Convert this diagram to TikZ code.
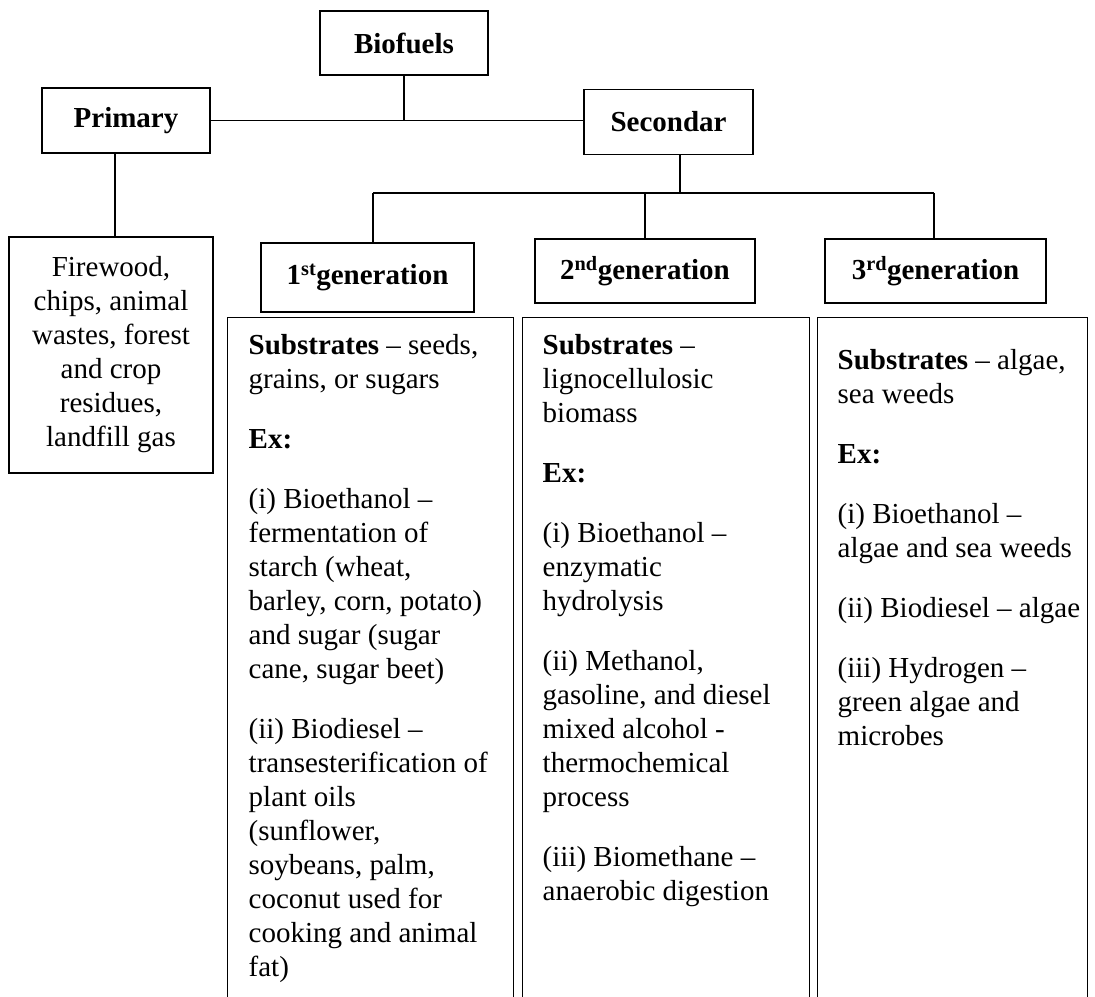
\documentclass[tikz,border=0pt]{standalone}
\usepackage{fontspec}
\setmainfont{Liberation Serif}
\usetikzlibrary{positioning}

\begin{document}
\begin{tikzpicture}[x=1pt, y=-1pt, line width=1.4pt,
  font=\fontsize{29}{34}\selectfont,
  hb/.style={draw, inner sep=0pt, font=\fontsize{29}{34}\selectfont\bfseries},
  col/.style={draw, anchor=north west, inner sep=0pt, minimum height=720pt},
  txt/.style={inner sep=0pt, align=left}]
  \useasboundingbox (0,0) rectangle (1095,996);
  \node[hb, minimum width=168pt, minimum height=64pt] (bio)  at (404,43)    {Biofuels};
  \node[hb, minimum width=168pt, minimum height=65pt] (prim) at (126,120.5) {Primary};
  \node[hb, minimum width=169pt, minimum height=65pt] (sec)  at (668.5,122) {Secondar};
  \node[draw, inner sep=0pt, align=center, minimum width=204pt, minimum height=236pt] (fire) at (111,355)
    {Firewood,\\chips, animal\\wastes, forest\\and crop\\residues,\\landfill gas};
  \node[hb, minimum width=213pt, minimum height=69pt] (gen1) at (367.5,277.5) {1\textsuperscript{st}generation};
  \node[hb, minimum width=220pt, minimum height=64pt] (gen2) at (645,271)     {2\textsuperscript{nd}generation};
  \node[hb, minimum width=221pt, minimum height=64pt] (gen3) at (935.5,271)   {3\textsuperscript{rd}generation};
  \node[col, minimum width=286pt] (col1) at (227,317) {};
  \node[col, minimum width=287pt] (col2) at (522,317) {};
  \node[col, minimum width=270pt] (col3) at (817,317) {};
  \node[txt, below right=15pt and 21pt of col1.north west] (txt1)
    {\rule{0pt}{22pt}\textbf{Substrates} -- seeds,\\grains, or sugars\\[26pt]
     \textbf{Ex:}\\[26pt]
     (i) Bioethanol --\\fermentation of\\starch (wheat,\\barley, corn, potato)\\and sugar (sugar\\cane, sugar beet)\\[26pt]
     (ii) Biodiesel --\\transesterification of\\plant oils\\(sunflower,\\soybeans, palm,\\coconut used for\\cooking and animal\\fat)};
  \node[txt, below right=15pt and 20pt of col2.north west] (txt2)
    {\rule{0pt}{22pt}\textbf{Substrates} --\\lignocellulosic\\biomass\\[26pt]
     \textbf{Ex:}\\[26pt]
     (i) Bioethanol --\\enzymatic\\hydrolysis\\[26pt]
     (ii) Methanol,\\gasoline, and diesel\\mixed alcohol -\\thermochemical\\process\\[26pt]
     (iii) Biomethane --\\anaerobic digestion};
  \node[txt, below right=30pt and 20pt of col3.north west] (txt3)
    {\rule{0pt}{22pt}\textbf{Substrates} -- algae,\\sea weeds\\[26pt]
     \textbf{Ex:}\\[26pt]
     (i) Bioethanol --\\algae and sea weeds\\[26pt]
     (ii) Biodiesel -- algae\\[26pt]
     (iii) Hydrogen --\\green algae and\\microbes};
  \coordinate (busL) at (373,193);
  \coordinate (busR) at (934,193);
  \draw (prim.east) -- (prim.east -| sec.west);
  \draw (bio.south) -- (bio.south |- prim.east);
  \draw ([xshift=-11pt]prim.south) -- ([xshift=-11pt]prim.south |- fire.north);
  \draw ([xshift=11.5pt]sec.south) -- ([xshift=11.5pt]sec.south |- busL);
  \draw (busL) -- (busR);
  \draw (busL) -- (busL |- gen1.north);
  \draw (gen2.north |- busL) -- (gen2.north);
  \draw (busR) -- (busR |- gen3.north);
\end{tikzpicture}
\end{document}
